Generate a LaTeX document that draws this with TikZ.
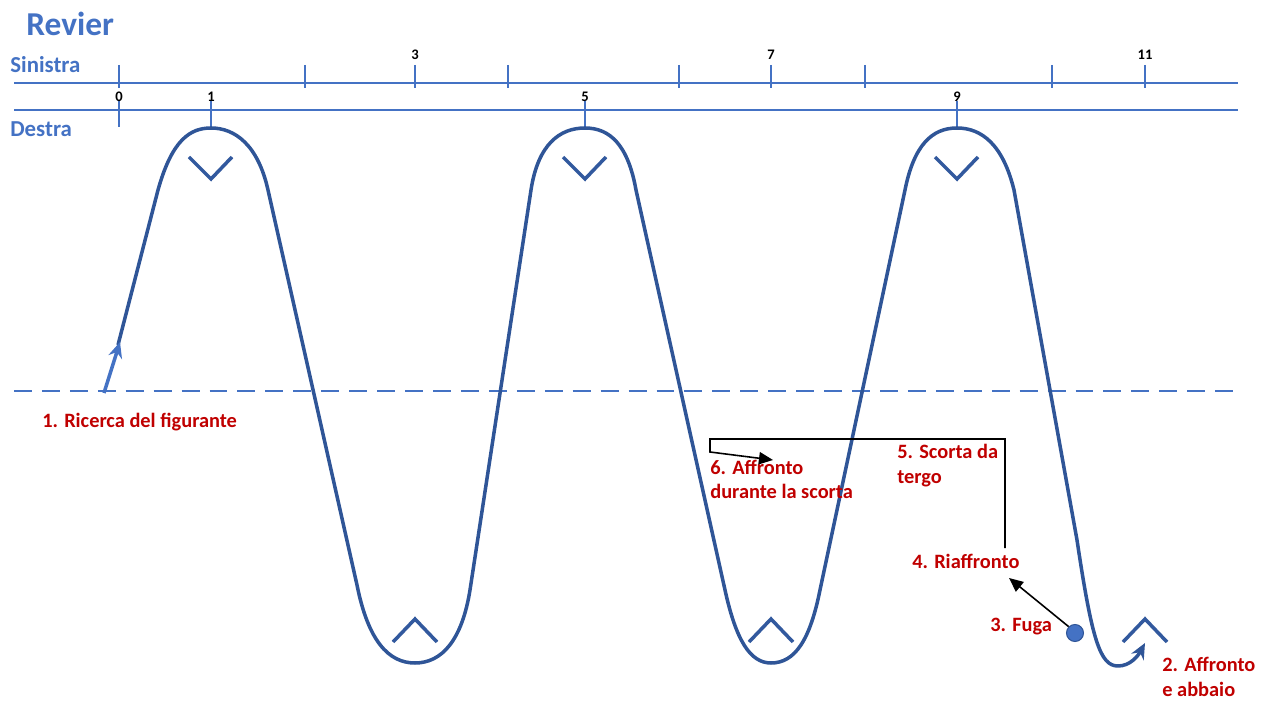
\documentclass[tikz,border=0pt]{standalone}
\usepackage{fontspec}
\setmainfont{Carlito}
\usetikzlibrary{arrows.meta}
\definecolor{axisblue}{HTML}{4472C4}
\definecolor{wavecol}{HTML}{2F5597}
\definecolor{labred}{HTML}{C00000}
\begin{document}
\begin{tikzpicture}[x=0.02cm,y=-0.02cm,
  axisline/.style={draw=axisblue, line width=1.4pt},
  tickline/.style={draw=axisblue, line width=1.4pt},
  wavepath/.style={draw=wavecol, line width=2pt, line join=round},
  chev/.style={draw=wavecol!85!axisblue, line width=2pt},
  redlab/.style={text=labred, font=\bfseries\fontsize{11.6}{13.8}\selectfont, inner sep=0pt, anchor=base west, align=left},
  numlab/.style={font=\bfseries\fontsize{8.3}{9}\selectfont, inner sep=0pt, anchor=base},
  sidelab/.style={text=axisblue, font=\bfseries\fontsize{13}{15}\selectfont, inner sep=0pt, anchor=base west},
  blk/.style={draw=black, line width=0.9pt}
]
\useasboundingbox (0,0) rectangle (1265,702);

% title and side labels
\node[text=axisblue, font=\bfseries\fontsize{19}{22}\selectfont, inner sep=0pt, anchor=base west] (title) at (26,36) {Revier};
\node[sidelab] (sin) at (10,73) {Sinistra};
\node[sidelab] (des) at (10,137) {Destra};

% axes
\draw[axisline] (14,83) -- (1238,83);
\draw[axisline] (14,110) -- (1238,110);
\foreach \x in {119,305,415,508,679,771,865,1052,1145}
  \draw[tickline] (\x,65) -- (\x,88);
\foreach \x in {119,211,585,957}
  \draw[tickline] (\x,101) -- (\x,127);
\node[numlab] (n3) at (415,60) {3};
\node[numlab] (n7) at (771,60) {7};
\node[numlab] (n11) at (1145,60) {11};
\node[numlab] (n0) at (119,102) {0};
\node[numlab] (n1) at (211,102) {1};
\node[numlab] (n5) at (585,102) {5};
\node[numlab] (n9) at (957,102) {9};

% dashed line
\draw[axisblue, line width=1.1pt, dash pattern=on 10.2pt off 5.7pt] (14,391) -- (1238,391);

% wave
\draw[wavepath, -{Stealth[length=9pt,width=8pt,inset=3pt]}]
  (118,345) -- (158,190) .. controls (172,140) and (190,128) .. (211,128)
  .. controls (235,128) and (258,145) .. (268,190) -- (357,585)
  .. controls (368,640) and (388,663) .. (415,663)
  .. controls (442,663) and (462,640) .. (470,590) -- (531,190)
  .. controls (538,144) and (560,128) .. (585,128)
  .. controls (610,128) and (628,145) .. (636,190) -- (725,590)
  .. controls (736,640) and (750,663) .. (771,663)
  .. controls (795,663) and (810,640) .. (820,590) -- (905,190)
  .. controls (914,145) and (932,128) .. (957,128)
  .. controls (982,128) and (1003,145) .. (1014,190) -- (1077,540)
  .. controls (1092,640) and (1100,666) .. (1118,666)
  .. controls (1130,666) and (1138,656) .. (1145,643);
\coordinate (s1) at (104,393);
\coordinate (s2) at (120,342);
\draw[draw=axisblue, line width=2pt, -{Stealth[length=9pt,width=8pt,inset=3pt]}] (s1) -- (s2);

% chevrons
\foreach \x in {211,585,957}
  \draw[chev] (\x-22,157) -- (\x,179) -- (\x+21,157);
\foreach \x in {415,771,1145}
  \draw[chev] (\x-22,642) -- (\x,619) -- (\x+22,642);

% labels (multi-line nodes: base = last line)
\node[redlab] (l1) at (42,428) {1. Ricerca del figurante};
\node[redlab] (l2) at (1162,696) {2. Affronto\\e abbaio};
\node[redlab] (l3) at (990,631) {3. Fuga};
\node[redlab] (l4) at (912,568) {4. Riaffronto};
\node[redlab] (l5) at (897,483) {5. Scorta da\\tergo};
\node[redlab] (l6) at (710,499) {6. Affronto\\durante la scorta};

% dot and black arrows
\node[circle, fill=axisblue, draw=wavecol, line width=0.6pt, inner sep=0pt, minimum size=0.34cm] (dot) at (1075,633) {};
\coordinate (fugaend) at (1009,578);
\draw[blk, -{Triangle[length=8pt,width=7pt]}] (dot.north west) -- (fugaend);
\coordinate (c1) at (1005,548);
\coordinate (c2) at (1005,439);
\coordinate (c3) at (710,439);
\coordinate (c4) at (710,452);
\coordinate (c5) at (773,460);
\draw[blk, -{Triangle[length=8pt,width=7pt]}] (c1) -- (c2) -- (c3) -- (c4) -- (c5);
\end{tikzpicture}
\end{document}
